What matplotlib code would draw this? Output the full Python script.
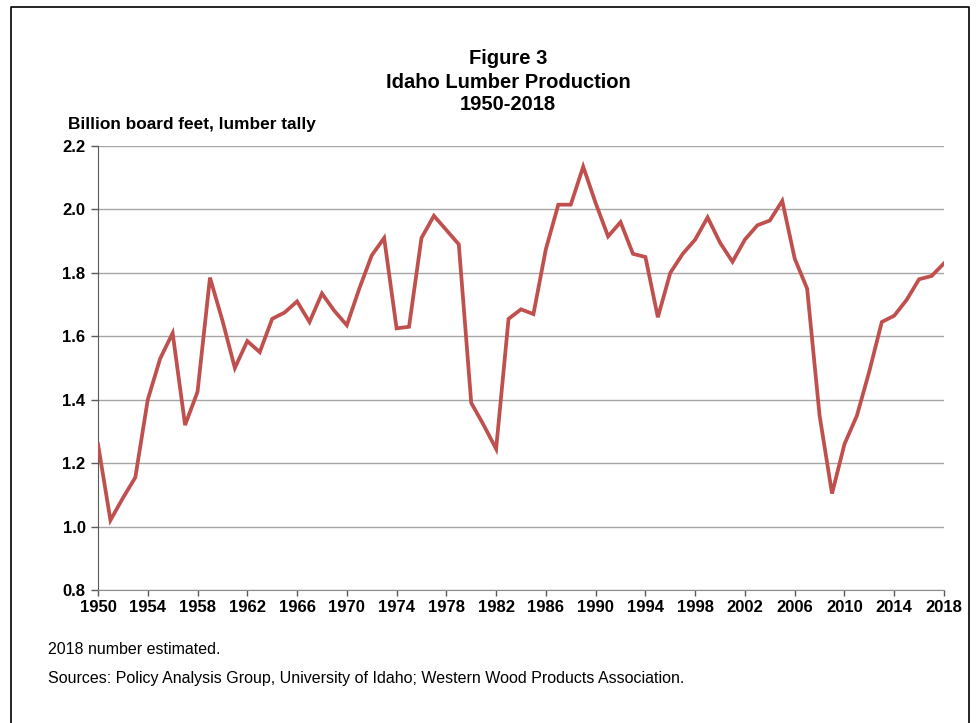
import matplotlib
matplotlib.use("Agg")
import matplotlib.pyplot as plt
from matplotlib.lines import Line2D

years = list(range(1950, 2019))
production = [
    1.26, 1.02, 1.09, 1.155, 1.40, 1.53, 1.61, 1.32, 1.425, 1.785,
    1.65, 1.50, 1.585, 1.55, 1.655, 1.675, 1.71, 1.645, 1.735, 1.68,
    1.635, 1.75, 1.855, 1.91, 1.625, 1.63, 1.91, 1.98, 1.935, 1.89,
    1.39, 1.32, 1.245, 1.655, 1.685, 1.67, 1.875, 2.015, 2.015, 2.135,
    2.02, 1.915, 1.96, 1.86, 1.85, 1.66, 1.80, 1.86, 1.905, 1.975,
    1.895, 1.835, 1.905, 1.95, 1.965, 2.027, 1.845, 1.75, 1.35, 1.104,
    1.26, 1.35, 1.49, 1.645, 1.665, 1.715, 1.78, 1.79, 1.83,
]
xticks = list(range(1950, 2019, 4))
yticks = [0.8, 1.0, 1.2, 1.4, 1.6, 1.8, 2.0, 2.2]

plt.rcParams['font.family'] = ['Liberation Sans', 'DejaVu Sans']

W, H = 976, 723
fig = plt.figure(figsize=(W / 100, H / 100), dpi=100)
ax = fig.add_axes([98 / W, 1 - 590 / H, (944 - 98) / W, (590 - 146) / H])

ax.plot(years, production, color='#C0504D', lw=2.7, solid_joinstyle='miter', zorder=3)

ax.set_xlim(1950, 2018)
ax.set_ylim(0.8, 2.2)
ax.set_xticks(xticks)
ax.set_xticklabels([str(y) for y in xticks], fontsize=12, fontweight='bold')
ax.set_yticks(yticks)
ax.set_yticklabels([f"{v:.1f}" for v in yticks], fontsize=12, fontweight='bold')

ax.grid(axis='y', color='#A6A6A6', lw=1.0, zorder=1)
for s in ['top', 'right']:
    ax.spines[s].set_visible(False)
ax.spines['left'].set_color('#595959')
ax.spines['bottom'].set_color('#8C8C8C')
ax.tick_params(axis='y', direction='out', length=5, width=1, color='#595959', pad=4)
ax.tick_params(axis='x', direction='out', length=4, width=1, color='#595959', pad=3)

# Titles
fig.text(508 / W, 1 - 59 / H, "Figure 3", ha='center', va='center', fontsize=14.5, fontweight='bold')
fig.text(508 / W, 1 - 82 / H, "Idaho Lumber Production", ha='center', va='center', fontsize=14.5, fontweight='bold')
fig.text(508 / W, 1 - 104 / H, "1950-2018", ha='center', va='center', fontsize=14.5, fontweight='bold')
fig.text(68 / W, 1 - 124 / H, "Billion board feet, lumber tally", ha='left', va='center', fontsize=12.4, fontweight='bold')

# Footnotes
fig.text(48 / W, 1 - 649 / H, "2018 number estimated.", ha='left', va='center', fontsize=11.5)
fig.text(48 / W, 1 - 678 / H, "Sources: Policy Analysis Group, University of Idaho; Western Wood Products Association.",
         ha='left', va='center', fontsize=11.5)

# Frame border (left, top, right)
bx0, bx1, by0 = 11 / W, 969 / W, 1 - 7 / H
fig.add_artist(Line2D([bx0, bx0, bx1, bx1], [0, by0, by0, 0], transform=fig.transFigure, color='black', lw=1.2))

fig.savefig("out.png", dpi=100)
